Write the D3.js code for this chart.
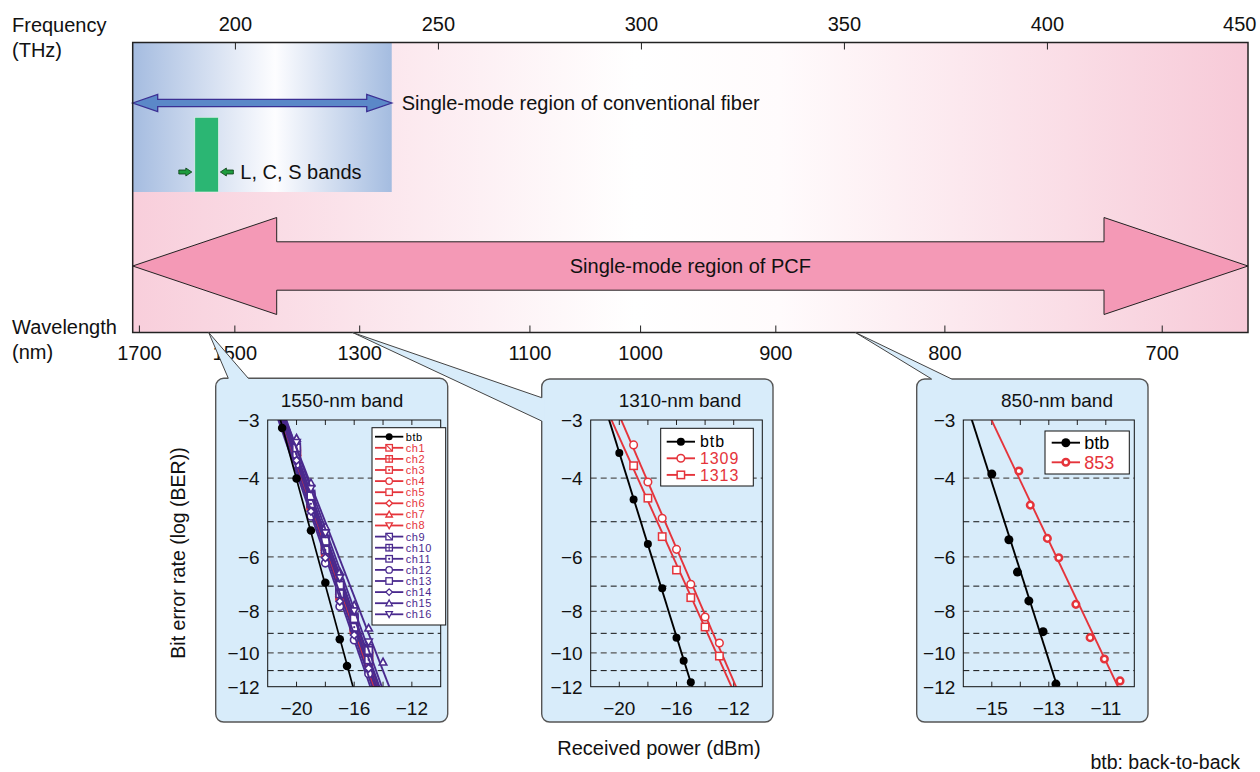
<!DOCTYPE html>
<html><head><meta charset="utf-8">
<script src="https://cdn.jsdelivr.net/npm/d3@7"></script>
<style>
body{margin:0;background:#fff}
svg{display:block}
text{font-family:"Liberation Sans",Arial,Helvetica,sans-serif;fill:#111}
</style>
</head><body>
<script>
// ---------------- DATA ----------------
const C_NM_THZ = 299792.458;
const freqTicks = [200, 250, 300, 350, 400, 450];
const wlTicks = [1700, 1500, 1300, 1100, 1000, 900, 800, 700];
const freqDomain = [174.7, 449.4];          // THz at frame edges
const convCutoffTHz = 238.5;                // single-mode limit of conventional fiber
const bandTHz = [190.0, 195.8];             // L, C, S bands
const yTickLabels = [-3, -4, -6, -8, -10, -12];
const yGrid = [-4, -5, -6, -7, -8, -9, -10, -11];

// 1550-nm band
const p1BtbX = [-21, -20, -19, -18, -17, -16.5];
const p1BtbY = [-3.12, -4.01, -5.23, -6.88, -9.29, -10.73];
const p1X = [-20, -19, -18, -17, -16, -15, -14];
const p1Names = ['ch1','ch2','ch3','ch4','ch5','ch6','ch7','ch8','ch9','ch10','ch11','ch12','ch13','ch14','ch15','ch16'];
const p1Shapes = ['sqdiag','sqplus','sqdot','circle','square','diamond','triup','tridown',
                  'sqdiag','sqplus','sqdot','circle','square','diamond','triup','tridown'];
const p1Y = [
  [-3.54, -4.54, -5.75, -7.25, -8.66, -10.31, null],
  [-3.59, -4.62, -5.86, -7.39, -8.83, -10.53, null],
  [-3.49, -4.46, -5.64, -7.11, -8.49, -10.09, null],
  [-3.61, -4.66, -5.92, -7.46, -8.91, -10.64, null],
  [-3.47, -4.42, -5.58, -7.04, -8.41, -9.98, null],
  [-3.56, -4.58, -5.81, -7.32, -8.74, -10.42, null],
  [-3.52, -4.50, -5.70, -7.18, -8.58, -10.20, null],
  [-3.63, -4.70, -5.98, -7.53, -8.99, -10.75, null],
  [-3.42, -4.34, -5.47, -6.90, -8.24, -9.76, null],
  [-3.51, -4.48, -5.67, -7.15, -8.54, -10.16, null],
  [-3.55, -4.56, -5.79, -7.29, -8.71, -10.38, null],
  [-3.73, -4.86, -6.20, -7.80, -9.33, -11.19, null],
  [-3.44, -4.38, -5.53, -6.97, -8.32, -9.87, null],
  [-3.66, -4.74, -6.03, -7.59, -9.08, -10.86, null],
  [-3.28, -4.10, -5.13, -6.49, -7.74, -8.75, -10.50],
  [-3.35, -4.22, -5.30, -6.70, -7.99, -9.43, null]
];

// 1310-nm band
const p2BtbX = [-20, -19, -18, -17, -16, -15.5, -15];
const p2BtbY = [-3.53, -4.46, -5.61, -7.08, -9.21, -10.43, -11.72];
const p2X = [-19, -18, -17, -16, -15, -14, -13];
const p2Y1309 = [-3.39, -4.08, -4.91, -5.77, -6.93, -8.25, -9.48];
const p2Y1313 = [-3.76, -4.43, -5.40, -6.43, -7.44, -8.70, -10.17];

// 850-nm band
const p3BtbX = [-15, -14.4, -14.1, -13.7, -13.2, -12.75];
const p3BtbY = [-3.92, -5.49, -6.50, -7.57, -8.92, -11.83];
const p3X853 = [-14.05, -13.65, -13.05, -12.65, -12.05, -11.55, -11.05, -10.5];
const p3Y853 = [-3.86, -4.59, -5.45, -6.03, -7.71, -9.21, -10.33, -11.63];

// ---------------- STYLE / LAYOUT ----------------
const RED = '#e5343b', PURPLE = '#4a2a8e', BLACK = '#000';
const W = 1260, H = 772;
const svg = d3.select('body').append('svg').attr('width', W).attr('height', H);
const defs = svg.append('defs');
function grad(id, stops) {
  const g = defs.append('linearGradient').attr('id', id).attr('x1', 0).attr('x2', 1).attr('y1', 0).attr('y2', 0);
  stops.forEach(([o, c]) => g.append('stop').attr('offset', o).attr('stop-color', c));
}
grad('pinkG', [[0, '#f8cedb'], [0.45, '#ffffff'], [0.58, '#fffbfc'], [1, '#f7cad8']]);
grad('blueG', [[0, '#a5bce0'], [0.55, '#fdfdff'], [1, '#a4bce0']]);

const fmt = d => (d < 0 ? '\u2212' : '') + Math.abs(d);
const FT = 42.5, FB = 332.5;
const fx = d3.scaleLinear().domain(freqDomain).range([132.7, 1248]);
const X0 = fx(freqDomain[0]), X1 = fx(freqDomain[1]);

// backgrounds
svg.append('rect').attr('x', X0).attr('y', FT).attr('width', X1 - X0).attr('height', FB - FT).attr('fill', 'url(#pinkG)');
const xc = fx(convCutoffTHz);
svg.append('rect').attr('x', X0).attr('y', FT).attr('width', xc - X0).attr('height', 192 - FT).attr('fill', 'url(#blueG)');

function dblArrow(x0, x1, yc, hl, hh, sh) {
  return [[x0, yc], [x0 + hl, yc - hh], [x0 + hl, yc - sh], [x1 - hl, yc - sh], [x1 - hl, yc - hh], [x1, yc],
          [x1 - hl, yc + hh], [x1 - hl, yc + sh], [x0 + hl, yc + sh], [x0 + hl, yc + hh]];
}
// PCF arrow
svg.append('polygon').attr('points', dblArrow(X0, X1, 266, 144, 48.5, 24.2).join(' '))
  .attr('fill', '#f499b6').attr('stroke', '#222').attr('stroke-width', 1);
svg.append('text').attr('x', (X0 + X1) / 2).attr('y', 273).attr('text-anchor', 'middle')
  .attr('font-size', 20).text('Single-mode region of PCF');

// conventional fiber arrow
svg.append('polygon').attr('points', dblArrow(X0, xc, 103, 25, 8.5, 3.6).join(' '))
  .attr('fill', '#5b88c8').attr('stroke', '#3b2f94').attr('stroke-width', 1.3);
svg.append('text').attr('x', xc + 10).attr('y', 110).attr('font-size', 20)
  .text('Single-mode region of conventional fiber');

// L, C, S band bar
const bL = fx(bandTHz[0]), bR = fx(bandTHz[1]);
svg.append('rect').attr('x', bL).attr('y', 117.3).attr('width', bR - bL).attr('height', 192 - 117.3)
  .attr('fill', '#2bb673').attr('stroke', '#e8f6ee').attr('stroke-width', 0.6);
function smallArrow(tip, dir, y) {
  return [[tip, y], [tip - dir * 6, y - 4], [tip - dir * 6, y - 2], [tip - dir * 13, y - 2],
          [tip - dir * 13, y + 2], [tip - dir * 6, y + 2], [tip - dir * 6, y + 4]];
}
svg.append('polygon').attr('points', smallArrow(bL - 3, 1, 172).join(' ')).attr('fill', '#1e9b3e').attr('stroke', '#0b3d14').attr('stroke-width', 0.8);
svg.append('polygon').attr('points', smallArrow(bR + 2, -1, 172).join(' ')).attr('fill', '#1e9b3e').attr('stroke', '#0b3d14').attr('stroke-width', 0.8);
svg.append('text').attr('x', bR + 22).attr('y', 179).attr('font-size', 20).text('L, C, S bands');

// frame
svg.append('rect').attr('x', X0).attr('y', FT).attr('width', X1 - X0).attr('height', FB - FT)
  .attr('fill', 'none').attr('stroke', '#222').attr('stroke-width', 1.5);

// frequency axis
freqTicks.forEach(f => {
  const x = fx(f);
  if (x < X1 - 2) svg.append('line').attr('x1', x).attr('x2', x).attr('y1', FT).attr('y2', FT + 7).attr('stroke', '#222');
  svg.append('text').attr('x', x < X1 - 2 ? x : x + 6).attr('y', 31).attr('font-size', 20)
    .attr('text-anchor', x < X1 - 2 ? 'middle' : 'end').text(f);
});
// wavelength axis
wlTicks.forEach(nm => {
  const x = fx(C_NM_THZ / nm);
  svg.append('line').attr('x1', x).attr('x2', x).attr('y1', FB).attr('y2', FB - 7).attr('stroke', '#222');
  svg.append('text').attr('x', x).attr('y', 360).attr('font-size', 20).attr('text-anchor', 'middle').text(nm);
});
svg.append('text').attr('x', 12).attr('y', 32).attr('font-size', 20).text('Frequency');
svg.append('text').attr('x', 12).attr('y', 57).attr('font-size', 20).text('(THz)');
svg.append('text').attr('x', 12).attr('y', 334).attr('font-size', 20).text('Wavelength');
svg.append('text').attr('x', 12).attr('y', 359).attr('font-size', 20).text('(nm)');

// ---------------- PANELS ----------------
const yT = v => Math.log10(-v - 0.4);   // BER axis transform

function marker(g, shape, x, y, color, s, sw) {
  const h = s / 2;
  const st = e => e.attr('stroke', color).attr('stroke-width', sw).attr('fill', '#fff');
  if (shape === 'dot') { g.append('circle').attr('cx', x).attr('cy', y).attr('r', h).attr('fill', color); return; }
  if (shape === 'circle') { st(g.append('circle').attr('cx', x).attr('cy', y).attr('r', h)); return; }
  if (shape === 'ring') {
    g.append('circle').attr('cx', x).attr('cy', y).attr('r', h).attr('fill', '#fff').attr('stroke', color).attr('stroke-width', sw); return;
  }
  if (shape === 'diamond') { st(g.append('path').attr('d', `M${x},${y - h}L${x + h},${y}L${x},${y + h}L${x - h},${y}Z`)); return; }
  if (shape === 'triup') { st(g.append('path').attr('d', `M${x},${y - h}L${x + h},${y + h * 0.8}L${x - h},${y + h * 0.8}Z`)); return; }
  if (shape === 'tridown') { st(g.append('path').attr('d', `M${x},${y + h}L${x + h},${y - h * 0.8}L${x - h},${y - h * 0.8}Z`)); return; }
  st(g.append('rect').attr('x', x - h).attr('y', y - h).attr('width', s).attr('height', s));
  const ln = (a, b, c, d) => g.append('line').attr('x1', a).attr('y1', b).attr('x2', c).attr('y2', d).attr('stroke', color).attr('stroke-width', sw * 0.8);
  if (shape === 'sqdiag') ln(x - h, y - h, x + h, y + h);
  if (shape === 'sqplus') { ln(x, y - h, x, y + h); ln(x - h, y, x + h, y); }
  if (shape === 'sqdot') g.append('circle').attr('cx', x).attr('cy', y).attr('r', 1.1).attr('fill', color);
}

function fitLine(xs, vs) {
  const pts = xs.map((x, i) => [x, vs[i]]).filter(p => p[1] != null).map(p => [p[0], yT(p[1])]);
  const mx = d3.mean(pts, p => p[0]), mt = d3.mean(pts, p => p[1]);
  let sxy = 0, sxx = 0;
  pts.forEach(p => { sxy += (p[0] - mx) * (p[1] - mt); sxx += (p[0] - mx) ** 2; });
  const a = sxy / sxx, b = mt - a * mx;
  return v => (yT(v) - b) / a;
}

const panels = [
  { box: [215.7, 378.3, 447.7, 722], plot: [267.7, 420, 440.7, 686.7], dom: [-22, -10], step: 2, labels: [-20, -16, -12],
    title: '1550-nm band', titleX: 342, nm: 1550, base: [[228.3, 378.3], [248.3, 378.3]], side: 'top' },
  { box: [541.7, 379, 773, 722], plot: [590.7, 420, 762.3, 686.7], dom: [-22, -10], step: 2, labels: [-20, -16, -12],
    title: '1310-nm band', titleX: 680, nm: 1310, base: [[541.7, 397.7], [541.7, 421]], side: 'left' },
  { box: [916.7, 379, 1148, 722], plot: [963.3, 420, 1134.3, 686.7], dom: [-16, -10], step: 1, labels: [-15, -13, -11],
    title: '850-nm band', titleX: 1057, nm: 850, base: [[931.7, 379], [951.7, 379]], side: 'top' }
];

const PANEL_FILL = '#d8ecfa';
panels.forEach((p, pi) => {
  const [bx0, by0, bx1, by1] = p.box;
  svg.append('rect').attr('x', bx0).attr('y', by0).attr('width', bx1 - bx0).attr('height', by1 - by0)
    .attr('rx', 8).attr('fill', PANEL_FILL).attr('stroke', '#555').attr('stroke-width', 1.4);
  const apex = [fx(C_NM_THZ / p.nm), FB];
  const [b1, b2] = p.base;
  const poly = p.side === 'top'
    ? [apex, b1, [b1[0], b1[1] + 2.5], [b2[0], b2[1] + 2.5], b2]
    : [apex, b1, [b1[0] + 2.5, b1[1]], [b2[0] + 2.5, b2[1]], b2];
  svg.append('polygon').attr('points', poly.join(' ')).attr('fill', PANEL_FILL);
  [b1, b2].forEach(b => svg.append('line').attr('x1', apex[0]).attr('y1', apex[1]).attr('x2', b[0]).attr('y2', b[1])
    .attr('stroke', '#444').attr('stroke-width', 1));

  const [px0, py0, px1, py1] = p.plot;
  const xs = d3.scaleLinear().domain(p.dom).range([px0, px1]);
  const ylin = d3.scaleLinear().domain([yT(-3), yT(-12)]).range([py0, py1]);
  const ys = v => ylin(yT(v));
  p.xs = xs; p.ys = ys;
  const g = svg.append('g');

  g.append('text').attr('x', p.titleX).attr('y', 407).attr('text-anchor', 'middle').attr('font-size', 19).text(p.title);

  // grid
  yGrid.forEach(v => g.append('line').attr('x1', px0).attr('x2', px1).attr('y1', ys(v)).attr('y2', ys(v))
    .attr('stroke', v % 2 === 0 ? '#555' : '#111').attr('stroke-width', v % 2 === 0 ? 1.3 : 1)
    .attr('stroke-dasharray', '6,4'));
  // y labels
  yTickLabels.forEach(v => {
    g.append('text').attr('x', px0 - 8).attr('y', ys(v)).attr('dy', '0.36em').attr('text-anchor', 'end')
      .attr('font-size', 19).text(fmt(v));
  });
  // x ticks
  d3.range(p.dom[0] + p.step, p.dom[1], p.step).forEach(v => {
    const x = xs(v);
    g.append('line').attr('x1', x).attr('x2', x).attr('y1', py0).attr('y2', py0 + 5).attr('stroke', '#222');
    g.append('line').attr('x1', x).attr('x2', x).attr('y1', py1).attr('y2', py1 - 5).attr('stroke', '#222');
  });
  p.labels.forEach(v => g.append('text').attr('x', xs(v)).attr('y', 715).attr('text-anchor', 'middle')
    .attr('font-size', 19).text(fmt(v)));

  defs.append('clipPath').attr('id', 'clip' + pi).append('rect')
    .attr('x', px0).attr('y', py0).attr('width', px1 - px0).attr('height', py1 - py0);
  p.data = g.append('g').attr('clip-path', `url(#clip${pi})`);
  p.g = g;
});

function series(p, xsArr, vsArr, color, shape, s, sw, lw) {
  const xAt = fitLine(xsArr, vsArr);
  const line = d3.line().x(d => p.xs(d[0])).y(d => p.ys(d[1]));
  p.data.append('path').attr('d', line([[xAt(-2.8), -2.8], [xAt(-12.6), -12.6]]))
    .attr('fill', 'none').attr('stroke', color).attr('stroke-width', lw);
  xsArr.forEach((x, i) => { if (vsArr[i] != null) marker(p.data, shape, p.xs(x), p.ys(vsArr[i]), color, s, sw); });
}

// panel 1
p1Y.forEach((vals, i) => series(panels[0], p1X, vals, i < 8 ? RED : PURPLE, p1Shapes[i], 7.5, 1.6, 1.9));
series(panels[0], p1BtbX, p1BtbY, BLACK, 'dot', 8.5, 0, 1.7);
// panel 2
series(panels[1], p2BtbX, p2BtbY, BLACK, 'dot', 8, 0, 1.9);
series(panels[1], p2X, p2Y1309, RED, 'circle', 7.6, 1.5, 1.9);
series(panels[1], p2X, p2Y1313, RED, 'square', 7.4, 1.5, 1.9);
// panel 3
series(panels[2], p3BtbX, p3BtbY, BLACK, 'dot', 9, 0, 1.9);
series(panels[2], p3X853, p3Y853, RED, 'ring', 6.6, 2.5, 1.9);

// plot frames
panels.forEach(p => {
  const [px0, py0, px1, py1] = p.plot;
  p.g.append('rect').attr('x', px0).attr('y', py0).attr('width', px1 - px0).attr('height', py1 - py0)
    .attr('fill', 'none').attr('stroke', '#111').attr('stroke-width', 1);
});

// legends
function legend(p, box, rows, lx0, lx1, tx, fs, items, ls) {
  const g = p.g;
  g.append('rect').attr('x', box[0]).attr('y', box[1]).attr('width', box[2] - box[0]).attr('height', box[3] - box[1])
    .attr('fill', '#fff').attr('stroke', '#111').attr('stroke-width', 1);
  items.forEach((it, i) => {
    const y = rows[0] + i * rows[1];
    g.append('line').attr('x1', lx0).attr('x2', lx1).attr('y1', y).attr('y2', y).attr('stroke', it.color).attr('stroke-width', it.lw);
    marker(g, it.shape, (lx0 + lx1) / 2, y, it.color, it.s, it.sw);
    g.append('text').attr('x', tx).attr('y', y).attr('dy', '0.36em').attr('font-size', fs)
      .attr('letter-spacing', ls || 0).style('fill', it.color).text(it.name);
  });
}
legend(panels[0], [372, 427.7, 445.7, 625], [436.7, 11.1], 375, 403.3, 405.7, 11,
  [{ name: 'btb', color: BLACK, shape: 'dot', s: 7, sw: 0, lw: 1.8 }]
    .concat(p1Names.map((n, i) => ({ name: n, color: i < 8 ? RED : PURPLE, shape: p1Shapes[i], s: 6.5, sw: 1.3, lw: 1.8 }))), 0.6);
legend(panels[1], [660.7, 428.3, 753.3, 486], [441.7, 16.6], 666.7, 695, 700, 16, [
  { name: 'btb', color: BLACK, shape: 'dot', s: 8, sw: 0, lw: 1.9 },
  { name: '1309', color: RED, shape: 'circle', s: 7.6, sw: 1.5, lw: 1.9 },
  { name: '1313', color: RED, shape: 'square', s: 7.4, sw: 1.5, lw: 1.9 }], 0.9);
legend(panels[2], [1045, 431, 1129.3, 474], [442.7, 19.6], 1051.7, 1080, 1084.3, 18, [
  { name: 'btb', color: BLACK, shape: 'dot', s: 9, sw: 0, lw: 1.9 },
  { name: '853', color: RED, shape: 'ring', s: 6.6, sw: 2.5, lw: 1.9 }]);

// axis titles
svg.append('text').attr('transform', 'translate(185,553) rotate(-90)').attr('text-anchor', 'middle')
  .attr('font-size', 19.5).text('Bit error rate (log (BER))');
svg.append('text').attr('x', 659).attr('y', 755).attr('text-anchor', 'middle').attr('font-size', 20).text('Received power (dBm)');
svg.append('text').attr('x', 1240).attr('y', 769).attr('text-anchor', 'end').attr('font-size', 19.5).text('btb: back-to-back');
</script>
</body></html>
